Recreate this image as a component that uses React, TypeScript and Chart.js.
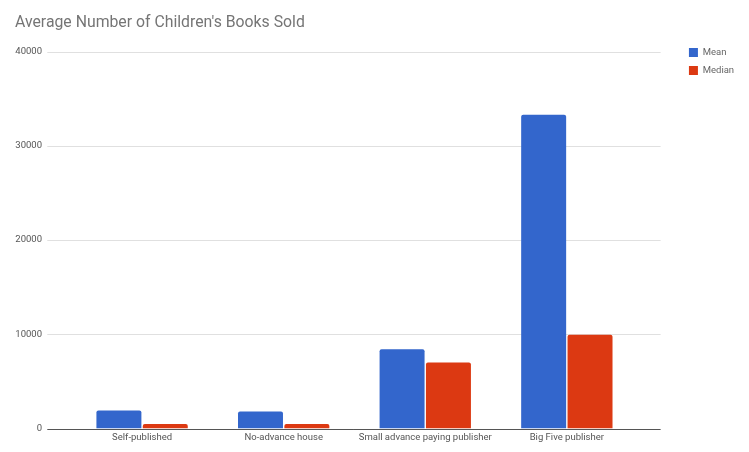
import React, { useEffect, useRef } from 'react'
import { Chart, registerables } from 'chart.js'

Chart.register(...registerables)

const categories = ['Self-published', 'No-advance house', 'Small advance paying publisher', 'Big Five publisher']
const meanSold = [1900, 1800, 8400, 33300]
const medianSold = [480, 480, 7000, 9950]
const yMax = 40000
const yStep = 10000

const BLUE = '#3366cc'
const RED = '#dc3912'

// google-style gridlines run a bit past the bar area on both sides
const extendedGrid = {
  id: 'extendedGrid',
  beforeDatasetsDraw(chart: any) {
    const { ctx, chartArea, scales } = chart
    ctx.save()
    ctx.lineWidth = 1
    ctx.strokeStyle = '#e0e0e0'
    scales.y.ticks.forEach((t: any) => {
      if (t.value === 0) return
      const py = Math.round(scales.y.getPixelForValue(t.value)) + 0.5
      ctx.beginPath()
      ctx.moveTo(chartArea.left - 24, py)
      ctx.lineTo(chartArea.right + 23, py)
      ctx.stroke()
    })
    ctx.restore()
  },
  afterDatasetsDraw(chart: any) {
    const { ctx, chartArea, scales } = chart
    const py = Math.round(scales.y.getPixelForValue(0)) + 0.5
    ctx.save()
    ctx.lineWidth = 1
    ctx.strokeStyle = '#555'
    ctx.beginPath()
    ctx.moveTo(chartArea.left - 24, py)
    ctx.lineTo(chartArea.right + 23, py)
    ctx.stroke()
    ctx.restore()
  },
}

const BooksChart = () => {
  const canvasRef = useRef<HTMLCanvasElement>(null)

  useEffect(() => {
    if (!canvasRef.current) return
    Chart.defaults.font.family = 'Roboto, sans-serif'
    const chart = new Chart(canvasRef.current, {
      type: 'bar',
      data: {
        labels: categories,
        datasets: [
          { label: 'Mean', data: meanSold, backgroundColor: BLUE, borderRadius: 2 },
          { label: 'Median', data: medianSold, backgroundColor: RED, borderRadius: 2 },
        ],
      },
      options: {
        responsive: true,
        maintainAspectRatio: false,
        animation: false,
        datasets: { bar: { categoryPercentage: 0.655, barPercentage: 0.97 } },
        layout: { padding: { left: 15, right: 4.9, top: 0, bottom: 5.5 } },
        plugins: {
          title: {
            display: true,
            text: "Average Number of Children's Books Sold",
            align: 'start',
            color: '#757575',
            font: { size: 15.8, weight: 'normal' },
            padding: { top: 13.5, bottom: 19.2 },
          },
          legend: {
            position: 'right',
            align: 'start',
            title: { display: true, text: '', font: { size: 10 }, padding: { top: 27.3, bottom: 0 } },
            labels: {
              boxWidth: 9,
              boxHeight: 9,
              padding: 8.5,
              color: '#666',
              font: { size: 9.5 },
            },
          },
          tooltip: { enabled: false },
        },
        scales: {
          x: {
            grid: { display: false, drawTicks: false },
            border: { display: false },
            ticks: { color: '#555', font: { size: 9.5 }, padding: 3.3, maxRotation: 0, autoSkip: false },
          },
          y: {
            min: 0,
            max: yMax,
            grid: { display: false, drawTicks: false },
            border: { display: false },
            ticks: {
              stepSize: yStep,
              color: '#555',
              font: { size: 9.5 },
              padding: 29.3,
              callback: (v: any) => String(v),
            },
            afterFit: (s: any) => {
              s.width = 56.3
              s.paddingTop = 6
              s.paddingBottom = 6
            },
          },
          spacer: {
            type: 'linear',
            position: 'right',
            display: true,
            grid: { display: false, drawTicks: false },
            border: { display: false },
            ticks: { display: false },
            afterFit: (s: any) => { s.width = 42.8 },
          },
        },
      },
      plugins: [extendedGrid],
    } as any)
    return () => chart.destroy()
  }, [])

  return <canvas ref={canvasRef} />
}

export default function App() {
  return (
    <div style={{ position: 'fixed', top: 0, left: 0, width: 749, height: 452, background: '#fff' }}>
      <BooksChart />
    </div>
  )
}
